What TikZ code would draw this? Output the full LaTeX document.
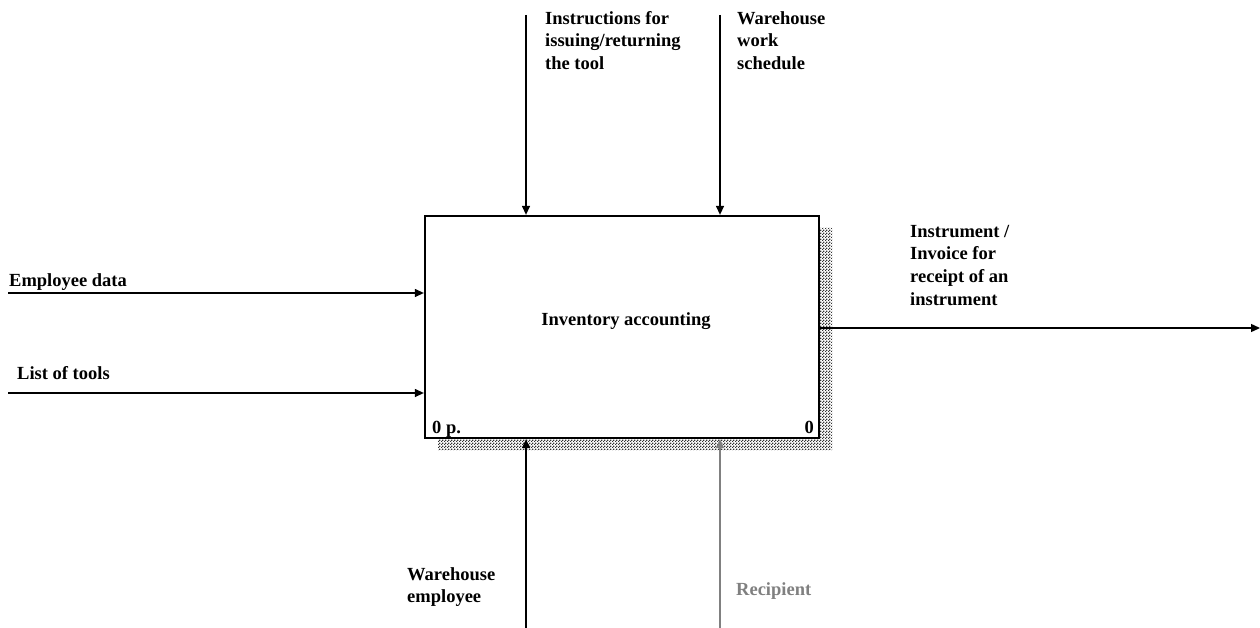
\documentclass[tikz,border=0pt]{standalone}
\usepackage{fontspec}
\setmainfont{Liberation Serif}
\usetikzlibrary{arrows.meta,patterns}
\pgfdeclarepatternformonly{finecheck}{\pgfpointorigin}{\pgfpoint{3pt}{3pt}}{\pgfpoint{3pt}{3pt}}{%
  \pgfpathrectangle{\pgfpointorigin}{\pgfpoint{1.5pt}{1.5pt}}%
  \pgfpathrectangle{\pgfpoint{1.5pt}{1.5pt}}{\pgfpoint{1.5pt}{1.5pt}}%
  \pgfusepath{fill}}
\definecolor{recgray}{HTML}{808080}
\tikzset{
  lbl/.style={inner sep=0pt, anchor=north west, align=left,
    font=\fontsize{18.5}{22.7}\selectfont\bfseries},
  arr/.style={line width=1.3pt, -{Triangle[length=9pt,width=8pt]}},
  actbox/.style={draw, line width=2.3pt, fill=white, minimum width=394pt,
    minimum height=222pt, inner sep=0pt},
  shadow/.style={pattern=finecheck, pattern color=black!80}
}
\begin{document}
\begin{tikzpicture}[x=1pt,y=-1pt]
\useasboundingbox (0,0) rectangle (1260,628);
% shadow
\fill[shadow] (819,228) -- (832,228) -- (832,450) -- (438,450) -- (438,438) -- (819,438) -- cycle;
% box
\node[actbox] (box) at (622,327) {};
\node[inner sep=0pt, anchor=base, font=\fontsize{18.5}{22.7}\selectfont\bfseries] (title) at (626,325) {Inventory accounting};
\node[inner sep=0pt, anchor=base west, font=\fontsize{18.5}{22.7}\selectfont\bfseries] (num1) at (432,433) {0 p.};
\node[inner sep=0pt, anchor=base east, font=\fontsize{18.5}{22.7}\selectfont\bfseries] (num2) at (814,433) {0};
% coordinates of free ends
\coordinate (c1) at (526,15);
\coordinate (c2) at (720,15);
\coordinate (i1) at (8,293);
\coordinate (i2) at (8,393);
\coordinate (o1) at (1260,328);
\coordinate (m1) at (526,628);
\coordinate (m2) at (720,628);
% controls
\draw[arr] (c1) -- (c1 |- box.north);
\draw[arr] (c2) -- (c2 |- box.north);
% inputs
\draw[arr] (i1) -- (i1 -| box.west);
\draw[arr] (i2) -- (i2 -| box.west);
% output
\draw[arr] (o1 -| box.east) -- (o1);
% mechanisms
\draw[arr] (m1) -- (m1 |- box.south);
\draw[arr, recgray] (m2) -- (m2 |- box.south);
% labels
\node[lbl] (lc1) at (545,24-15.9) {\strut Instructions for\\issuing/returning\\the tool};
\node[lbl] (lc2) at (737,24-15.9) {\strut Warehouse\\work\\schedule};
\node[lbl] (li1) at (9,286-15.9) {\strut Employee data};
\node[lbl] (li2) at (17,379-15.9) {\strut List of tools};
\node[lbl] (lo1) at (910,237-15.9) {\strut Instrument /\\Invoice for\\receipt of an\\instrument};
\node[lbl] (lm1) at (407,580-15.9) {\strut Warehouse\\employee};
\node[lbl, text=recgray] (lm2) at (736,595-15.9) {\strut Recipient};
\end{tikzpicture}
\end{document}
